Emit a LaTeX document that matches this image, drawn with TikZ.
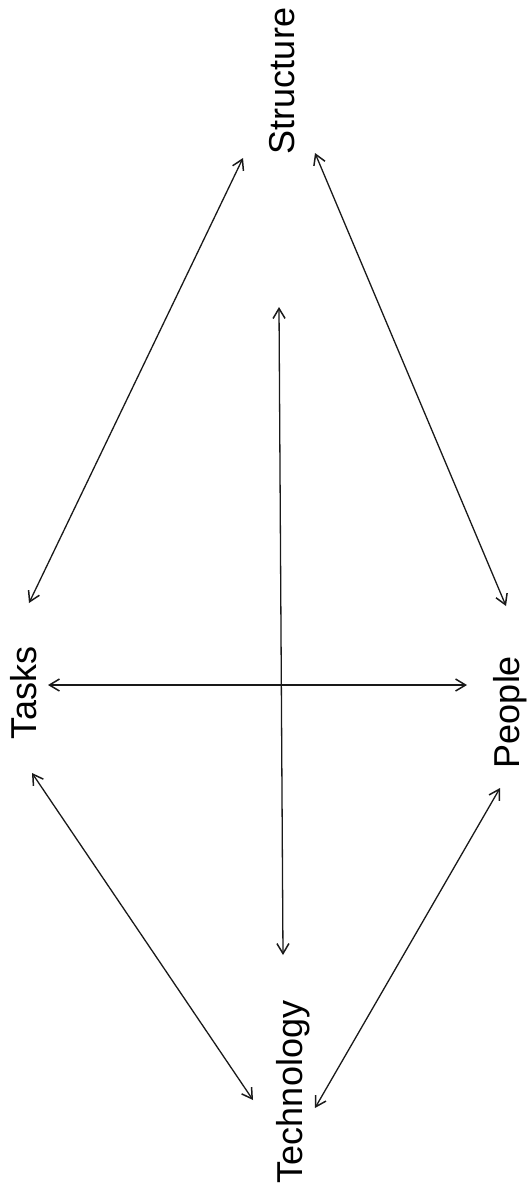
\documentclass[tikz,border=0pt]{standalone}
\usepackage{fontspec}
\setmainfont{Liberation Sans}
\usetikzlibrary{arrows.meta,calc}
\begin{document}
\begin{tikzpicture}[x=1pt,y=-1pt,
  lbl/.style={rotate=90,inner sep=0pt,outer sep=0pt,font=\fontsize{36}{43}\selectfont,text=black},
  tip/.style={Straight Barb[length=10pt,width=12pt,line width=1.5pt]},
  link/.style={{Straight Barb[length=10pt,width=12pt,line width=1.5pt]}-{Straight Barb[length=10pt,width=12pt,line width=1.5pt]},line width=1.3pt,black!90}]
\useasboundingbox (0,0) rectangle (532,1195);
\node[lbl] (S) at (282,81) {Structure};
\node[lbl] (T) at (24,693) {Tasks};
\node[lbl] (P) at (510,712) {People};
\node[lbl] (K) at (293,1092) {Technology};
\draw[link] ($(S)+(-39,77)$) -- ($(T)+(5,-90)$);
\draw[link] ($(S)+(33,72)$) -- ($(P)+(-4,-106)$);
\draw[link] ($(T)+(24,-8)$) -- ($(P)+(-43,-27)$);
\draw[link] ($(S)+(-3,226)$) -- ($(K)+(-10,-137)$);
\draw[link] ($(T)+(8,80)$) -- ($(K)+(-40,8)$);
\draw[link] ($(P)+(-10,76)$) -- ($(K)+(22,16)$);
\end{tikzpicture}
\end{document}
